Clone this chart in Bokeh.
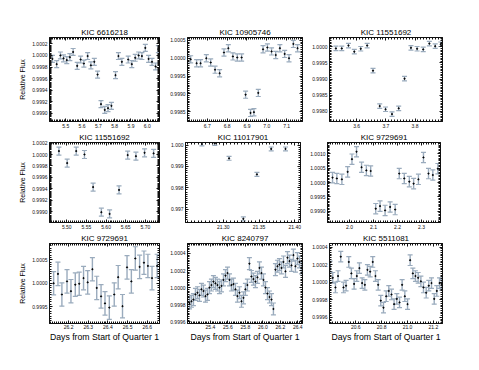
import numpy as np
from bokeh.plotting import figure
from bokeh.models import (Range1d, FixedTicker, LinearAxis, Whisker, TeeHead,
                          ColumnDataSource, PrintfTickFormatter)
from bokeh.layouts import column, row
from bokeh.embed import file_html
from bokeh.resources import INLINE

titles = ["KIC 6616218", "KIC 10905746", "KIC 11551692",
          "KIC 11551692", "KIC 11017901", "KIC 9729691",
          "KIC 9729691", "KIC 8240797", "KIC 5511081"]

p1_x = [5.418, 5.444, 5.467, 5.486, 5.506, 5.525, 5.545, 5.570, 5.591, 5.611, 5.634,
        5.654, 5.675, 5.695, 5.716, 5.739, 5.759, 5.780, 5.805, 5.823, 5.844, 5.883,
        5.905, 5.926, 5.947, 5.967, 5.988, 6.008, 6.029, 6.051, 6.068]
p1_y = [0.99994, 0.99985, 1.00000, 0.99995, 0.99992, 0.99997, 1.00006, 0.99982, 0.99993,
        0.99986, 0.99999, 0.99983, 0.99989, 0.99967, 0.99916, 0.99906, 0.99909, 0.99913,
        0.99966, 0.99999, 0.99989, 0.99993, 0.99985, 0.99996, 1.00000, 0.99999, 1.00013,
        0.99994, 0.99989, 0.99981, 1.00011]
p1_e = 0.00006

p2_x = [6.616, 6.646, 6.666, 6.695, 6.717, 6.739, 6.762, 6.784, 6.806, 6.829, 6.851,
        6.873, 6.893, 6.918, 6.935, 6.957, 6.981, 7.003, 7.024, 7.045, 7.066, 7.090,
        7.112, 7.134, 7.155]
p2_y = [0.99997, 0.99986, 0.99986, 1.00000, 0.99988, 0.99968, 0.99958, 1.00016, 1.00028,
        1.00005, 1.00002, 1.00002, 0.99898, 0.99847, 0.99849, 0.99903, 1.00025, 1.00030,
        1.00019, 1.00009, 1.00028, 1.00012, 1.00000, 1.00040, 1.00028]
p2_e = 0.0001

p3_x = [3.529, 3.549, 3.572, 3.592, 3.614, 3.636, 3.656, 3.679, 3.699, 3.721, 3.744,
        3.764, 3.786, 3.807, 3.828, 3.849, 3.869, 3.888]
p3_y = [0.99995, 0.99995, 1.00004, 0.99985, 0.99994, 1.00004, 0.99926, 0.99816, 0.99806,
        0.99791, 0.99809, 0.99901, 0.99997, 0.99994, 0.99992, 1.00010, 1.00002, 1.00008]
p3_e = 0.00007

p4_x = [5.480, 5.501, 5.524, 5.545, 5.567, 5.588, 5.609, 5.633, 5.655, 5.676, 5.698, 5.721]
p4_y = [1.00006, 0.99985, 1.00006, 1.00000, 0.99943, 0.99899, 0.99896, 0.99938, 0.99999,
        0.99997, 1.00003, 1.00002]
p4_e = 0.00007

p5_x = [21.270, 21.288, 21.308, 21.328, 21.347, 21.367, 21.387]
p5_y = [1.00005, 1.00008, 0.99938, 0.99655, 0.99863, 0.99982, 0.99982]
p5_e = 0.00009

p6_x = [1.929, 1.947, 1.968, 1.992, 2.010, 2.029, 2.050, 2.070, 2.088, 2.109, 2.127,
        2.148, 2.169, 2.190, 2.207, 2.228, 2.249, 2.267, 2.287, 2.308, 2.329, 2.347, 2.368]
p6_y = [1.00017, 1.00014, 1.00011, 1.00037, 1.00081, 1.00107, 1.00053, 1.00042, 1.00040,
        0.99909, 0.99918, 0.99903, 0.99915, 0.99906, 1.00031, 1.00014, 1.00003, 0.99996,
        1.00011, 1.00087, 1.00031, 1.00026, 1.00048]
p6_e = 0.00018

p7_x = [26.124, 26.146, 26.166, 26.192, 26.212, 26.234, 26.254, 26.276, 26.297, 26.321,
        26.343, 26.365, 26.385, 26.407, 26.432, 26.452, 26.474, 26.497, 26.519, 26.539,
        26.561, 26.583, 26.603, 26.624, 26.650]
p7_y = [1.00000, 1.00020, 0.99976, 1.00004, 0.99983, 0.99997, 0.99999, 1.00011, 1.00002,
        1.00030, 0.99990, 0.99972, 0.99957, 0.99948, 0.99976, 1.00013, 0.99951, 1.00034,
        1.00004, 1.00053, 1.00035, 1.00044, 1.00037, 1.00011, 1.00037]
p7_e = 0.00025

p8_x = [25.160, 25.182, 25.205, 25.228, 25.251, 25.274, 25.297, 25.320, 25.343, 25.366,
        25.389, 25.411, 25.434, 25.457, 25.480, 25.503, 25.526, 25.549, 25.572, 25.595,
        25.618, 25.640, 25.663, 25.686, 25.709, 25.732, 25.755, 25.778, 25.800, 25.823,
        25.846, 25.869, 25.892, 25.915, 25.938, 25.961, 25.984, 26.007, 26.030, 26.053,
        26.076, 26.099, 26.121, 26.144, 26.167, 26.190, 26.213, 26.236, 26.259, 26.282,
        26.305, 26.328, 26.350, 26.373, 26.396, 26.419, 26.442]
p8_y = [0.99982, 0.99984, 0.99986, 0.99992, 0.99994, 0.99991, 0.99998, 0.99996, 0.99990,
        0.99992, 1.00000, 1.00003, 1.00007, 1.00005, 1.00003, 1.00000, 1.00002, 1.00009,
        1.00014, 1.00017, 1.00009, 1.00003, 1.00004, 0.99998, 0.99990, 0.99994, 0.99984,
        0.99988, 0.99998, 1.00003, 1.00028, 1.00013, 1.00010, 1.00007, 1.00012, 1.00023,
        1.00017, 1.00009, 1.00000, 0.99993, 0.99989, 0.99986, 0.99975, 1.00021, 1.00025,
        1.00027, 1.00023, 1.00030, 1.00019, 1.00035, 1.00031, 1.00026, 1.00038, 1.00025,
        1.00034, 1.00030, 1.00023]
p8_e = 0.00007

p9_x = [20.402, 20.422, 20.443, 20.463, 20.484, 20.505, 20.525, 20.546, 20.566, 20.587,
        20.608, 20.628, 20.649, 20.670, 20.690, 20.711, 20.731, 20.752, 20.773, 20.793,
        20.814, 20.835, 20.855, 20.876, 20.896, 20.917, 20.938, 20.958, 20.979, 21.000,
        21.020, 21.041, 21.061, 21.082, 21.103, 21.123, 21.144, 21.164, 21.185, 21.206,
        21.226, 21.247, 21.264]
p9_y = [1.00018, 1.00005, 0.99994, 1.00007, 1.00029, 0.99994, 0.99996, 1.00023, 1.00010,
        0.99998, 1.00007, 1.00016, 0.99999, 0.99997, 1.00014, 1.00012, 1.00023, 1.00007,
        0.99997, 0.99979, 0.99971, 0.99984, 0.99990, 0.99986, 0.99975, 0.99981, 0.99977,
        0.99997, 0.99984, 0.99975, 1.00025, 1.00010, 1.00007, 1.00005, 1.00001, 0.99994,
        0.99988, 0.99996, 0.99999, 0.99981, 0.99990, 0.99999, 0.99997]
p9_e = 0.00006

# axis ranges and tick values
x_ranges = [(5.40, 6.075), (6.60, 7.18), (3.507, 3.894),
            (5.456, 5.736), (21.247, 21.408), (1.908, 2.379),
            (26.103, 26.662), (25.137, 26.454), (20.397, 21.27)]
y_ranges = [(0.99886, 1.00031), (0.99823, 1.00058), (0.99768, 1.00029),
            (0.99881, 1.00021), (0.99638, 1.00012), (0.99861, 1.00139),
            (0.99914, 1.00085), (0.99958, 1.000516), (0.99953, 1.00044)]
x_ticks = [[5.5, 5.6, 5.7, 5.8, 5.9, 6.0], [6.7, 6.8, 6.9, 7.0, 7.1], [3.6, 3.7, 3.8],
           [5.50, 5.55, 5.60, 5.65, 5.70], [21.30, 21.35, 21.40], [2.0, 2.1, 2.2, 2.3],
           [26.2, 26.3, 26.4, 26.5, 26.6], [25.4, 25.6, 25.8, 26.0, 26.2, 26.4],
           [20.6, 20.8, 21.0, 21.2]]
x_fmt = ["%.1f", "%.1f", "%.1f", "%.2f", "%.2f", "%.1f", "%.1f", "%.1f", "%.1f"]
y_ticks = [[0.9990, 0.9992, 0.9994, 0.9996, 0.9998, 1.0000, 1.0002],
           [0.9985, 0.9990, 0.9995, 1.0000, 1.0005],
           [0.9980, 0.9985, 0.9990, 0.9995, 1.0000],
           [0.9990, 0.9992, 0.9994, 0.9996, 0.9998, 1.0000, 1.0002],
           [0.997, 0.998, 0.999, 1.000],
           [0.9990, 0.9995, 1.0000, 1.0005, 1.0010],
           [0.9995, 1.0000, 1.0005],
           [0.9996, 0.9998, 1.0000, 1.0002, 1.0004],
           [0.9996, 0.9998, 1.0000, 1.0002, 1.0004]]
y_fmt = ["%.4f", "%.4f", "%.4f", "%.4f", "%.3f", "%.4f", "%.4f", "%.4f", "%.4f"]

xs_all = [p1_x, p2_x, p3_x, p4_x, p5_x, p6_x, p7_x, p8_x, p9_x]
ys_all = [p1_y, p2_y, p3_y, p4_y, p5_y, p6_y, p7_y, p8_y, p9_y]
es_all = [p1_e, p2_e, p3_e, p4_e, p5_e, p6_e, p7_e, p8_e, p9_e]

FONT = "Liberation Sans"
BAR = "#9aabbd"
INK = "#111111"

frame_w = [110, 115, 113]
frame_h = [84, 80, 80]
border_l = [49, 18, 18]
border_r = [8, 7, 5]
border_t = [37, 0, 0]
border_b = [0, 0, 14]


def minor(lo, hi, ticks):
    step = (ticks[1] - ticks[0]) / 10.0
    start = np.ceil(lo / step) * step
    return list(np.arange(start, hi, step))


def style_axis(ax, fmt, show_labels):
    ax.major_tick_in = 3
    ax.major_tick_out = 0
    ax.minor_tick_in = 2
    ax.minor_tick_out = 0
    ax.axis_line_color = INK
    ax.major_tick_line_color = INK
    ax.minor_tick_line_color = INK
    ax.major_label_text_font = FONT
    ax.major_label_text_font_size = "5px"
    ax.major_label_text_color = INK
    ax.major_label_standoff = 2
    ax.formatter = PrintfTickFormatter(format=fmt)
    if not show_labels:
        ax.major_label_text_alpha = 0
        ax.major_label_text_font_size = "1px"
        ax.major_label_standoff = 0


figs = []
for i in range(9):
    r, c = divmod(i, 3)
    p = figure(frame_width=frame_w[c], frame_height=frame_h[r],
               min_border_left=border_l[c], min_border_right=border_r[c],
               min_border_top=border_t[r], min_border_bottom=border_b[r],
               output_backend="svg", toolbar_location=None,
               x_range=Range1d(*x_ranges[i]), y_range=Range1d(*y_ranges[i]),
               title=titles[i])
    p.grid.visible = False
    p.outline_line_color = INK
    p.title.text_font = FONT
    p.title.text_font_size = "8px"
    p.title.text_font_style = "normal"
    p.title.text_color = "black"
    p.title.align = "center"
    p.title.standoff = 1
    p.title.offset = 0

    bottom = p.below[0]
    left = p.left[0]

    xt = FixedTicker(ticks=x_ticks[i], minor_ticks=minor(*x_ranges[i], x_ticks[i]))
    yt = FixedTicker(ticks=y_ticks[i], minor_ticks=minor(*y_ranges[i], y_ticks[i]))
    bottom.ticker = xt
    left.ticker = yt
    style_axis(bottom, x_fmt[i], True)
    style_axis(left, y_fmt[i], True)

    top = LinearAxis(ticker=xt)
    style_axis(top, x_fmt[i], False)
    p.add_layout(top, "above")
    right = LinearAxis(ticker=yt)
    style_axis(right, y_fmt[i], False)
    p.add_layout(right, "right")

    if c == 0:
        left.axis_label = "Relative Flux"
        left.axis_label_text_font = FONT
        left.axis_label_text_font_size = "7px"
        left.axis_label_text_font_style = "normal"
        left.axis_label_text_color = "black"
        left.axis_label_standoff = 3
    if r == 2:
        bottom.axis_label = "Days from Start of Quarter 1"
        bottom.axis_label_text_font = FONT
        bottom.axis_label_text_font_size = "8.7px"
        bottom.axis_label_text_font_style = "normal"
        bottom.axis_label_text_color = "black"
        bottom.axis_label_standoff = 0
        bottom.major_label_standoff = 1

    xv = np.array(xs_all[i])
    yv = np.array(ys_all[i])
    e = es_all[i]
    src = ColumnDataSource(dict(x=xv, y=yv, lo=yv - e, hi=yv + e))
    w = Whisker(source=src, base="x", lower="lo", upper="hi",
                line_color=BAR, line_width=1.4,
                upper_head=TeeHead(size=5, line_color=BAR, line_width=1.2),
                lower_head=TeeHead(size=5, line_color=BAR, line_width=1.2))
    p.add_layout(w)
    p.scatter("x", "y", source=src, size=1.2, color="black")
    figs.append(p)

layout = column(row(figs[0:3]), row(figs[3:6]), row(figs[6:9]))

open("out.html", "w").write(file_html(layout, INLINE))
